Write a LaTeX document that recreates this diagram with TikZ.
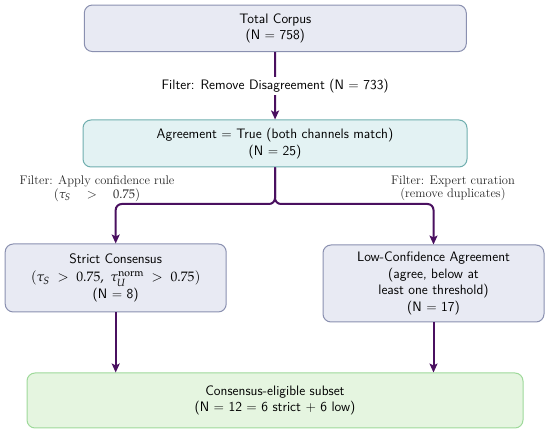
\documentclass[tikz,border=0pt]{standalone}
\usepackage{mathpazo}
\usetikzlibrary{arrows.meta}
\definecolor{bfill}{HTML}{E8EAF3}
\definecolor{bdraw}{HTML}{8A90B0}
\definecolor{tfill}{HTML}{E3F2F3}
\definecolor{tdraw}{HTML}{6FAEAE}
\definecolor{gfill}{HTML}{E5F5E0}
\definecolor{gdraw}{HTML}{9ED99A}
\definecolor{arr}{HTML}{4A1060}
\tikzset{
  boxbase/.style={rounded corners=8pt, line width=1pt, align=center, inner sep=0pt,
    font=\sffamily\fontsize{13.7}{16.5}\selectfont},
  bluebox/.style={boxbase, fill=bfill, draw=bdraw},
  tealbox/.style={boxbase, fill=tfill, draw=tdraw},
  greenbox/.style={boxbase, fill=gfill, draw=gdraw},
  flow/.style={draw=arr, line width=2pt, -{Stealth[length=9pt,width=8pt,inset=2pt]}},
  branch/.style={flow, rounded corners=6pt},
  filtlab/.style={align=center, inner sep=1pt, text=black!85, font=\rmfamily\fontsize{12.5}{13.4}\selectfont},
  toplab/.style={fill=white, inner sep=2pt, font=\sffamily\fontsize{13.7}{16.5}\selectfont}
}
\begin{document}
\begin{tikzpicture}[x=1pt,y=-1pt]
\useasboundingbox (0,0) rectangle (550,433);
\node[bluebox, minimum width=382pt, minimum height=46.5pt] (total) at (275.3,28.3)
  {Total Corpus\\(N = 758)};
\node[tealbox, minimum width=384pt, minimum height=47pt] (agree) at (275,143.5)
  {Agreement = True (both channels match)\\(N = 25)};
\node[bluebox, minimum width=221pt, minimum height=68pt] (strict) at (115.7,278)
  {Strict Consensus\\[1.5pt]$(\tau_S \;>\; 0.75,\ \tau_U^{\mathrm{norm}} \;>\; 0.75)$\\[0.5pt](N = 8)};
\node[bluebox, minimum width=221pt, minimum height=77pt] (low) at (433.5,283.5)
  {Low-Confidence Agreement\\(agree, below at\\least one threshold)\\(N = 17)};
\node[greenbox, minimum width=496pt, minimum height=55pt] (cons) at (275,400.5)
  {Consensus-eligible subset\\(N = 12 = 6 strict + 6 low)};
\coordinate (split) at (275,204);
\draw[flow] (total) -- node[toplab] (toplabel) {Filter: Remove Disagreement (N = 733)} (agree);
\draw[branch] (agree.south) -- (split) -| (strict.north);
\draw[branch] (agree.south) -- (split) -| (low.north);
\draw[flow] (strict.south) -- (strict.south |- cons.north);
\draw[flow] (low.south) -- (low.south |- cons.north);
\node[filtlab] (leftlab) at (97,188.5) {Filter: Apply confidence rule\\$(\tau_S \quad > \quad 0.75)$};
\node[filtlab] (rightlab) at (453,188.5) {Filter: Expert curation\\(remove duplicates)};
\end{tikzpicture}
\end{document}
